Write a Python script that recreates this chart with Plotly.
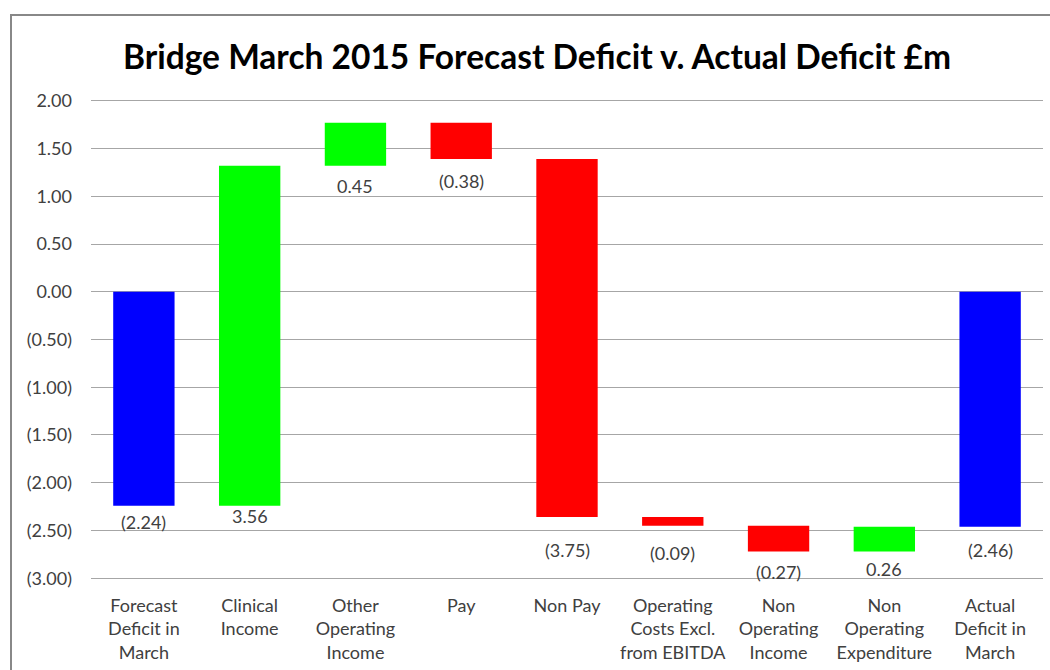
import plotly.graph_objects as go

categories = [
    "Forecast<br>Deficit in<br>March",
    "Clinical<br>Income",
    "Other<br>Operating<br>Income",
    "Pay",
    "Non Pay",
    "Operating<br>Costs Excl.<br>from EBITDA",
    "Non<br>Operating<br>Income",
    "Non<br>Operating<br>Expenditure",
    "Actual<br>Deficit in<br>March",
]
values = [-2.24, 3.56, 0.45, -0.38, -3.75, -0.09, -0.27, 0.26, -2.46]
measures = ["absolute", "relative", "relative", "relative", "relative",
            "relative", "relative", "relative", "total"]
tick_values = [2.0, 1.5, 1.0, 0.5, 0.0, -0.5, -1.0, -1.5, -2.0, -2.5, -3.0]
tick_labels = ["2.00", "1.50", "1.00", "0.50", "0.00", "(0.50)", "(1.00)",
               "(1.50)", "(2.00)", "(2.50)", "(3.00)"]

# styling: pixel offset of each value label below its bar
label_offset_px = [16, 10, 20, 22, 33, 27, 21, 18, 23]

FONT = "Lato, Carlito, Calibri, sans-serif"
TXT = "#404040"

fig = go.Figure(go.Waterfall(
    x=categories,
    y=values,
    measure=measures,
    width=0.58,
    increasing=dict(marker=dict(color="#00FF00")),
    decreasing=dict(marker=dict(color="#FF0000")),
    totals=dict(marker=dict(color="#0000FF")),
    connector=dict(visible=False),
    hoverinfo="x+y",
))

cum = 0.0
annotations = []
for i, (c, v, m) in enumerate(zip(categories, values, measures)):
    if m == "absolute":
        start, end = 0.0, v
        cum = v
    elif m == "total":
        start, end = 0.0, cum
    else:
        start, end = cum, cum + v
        cum = cum + v
    bottom = min(start, end)
    label = f"({abs(v):.2f})" if v < 0 else f"{v:.2f}"
    annotations.append(dict(
        x=c, y=bottom, xref="x", yref="y", text=label, showarrow=False,
        yanchor="middle", yshift=-label_offset_px[i],
        font=dict(family=FONT, size=18, color=TXT),
    ))

fig.update_layout(
    width=1050, height=670,
    margin=dict(l=91, r=7, t=96, b=87),
    paper_bgcolor="white", plot_bgcolor="white",
    showlegend=False,
    title=dict(
        text="<b>Bridge March 2015 Forecast Deficit v. Actual Deficit £m</b>",
        x=537 / 1050, xanchor="center", y=1 - 57 / 670, yanchor="middle",
        font=dict(family=FONT, size=33.5, color="black"),
    ),
    annotations=annotations,
    shapes=[dict(type="rect", xref="paper", yref="paper",
                 x0=(11 - 91) / 952, x1=1.2, y0=-0.5, y1=(583 - 15) / 487,
                 line=dict(color="#888888", width=2), layer="below")],
    font=dict(family=FONT, size=18, color=TXT),
)
fig.update_xaxes(
    showgrid=False, showline=False, zeroline=False,
    tickfont=dict(family=FONT, size=18, color=TXT),
    ticklabelstandoff=10,
)
fig.update_yaxes(
    range=[-3.05, 2.05], tickvals=tick_values, ticktext=tick_labels,
    showgrid=True, gridcolor="#A6A6A6", gridwidth=1,
    zeroline=True, zerolinecolor="#A6A6A6", zerolinewidth=1,
    showline=False, ticks="", ticklabelstandoff=18,
    tickfont=dict(family=FONT, size=18, color=TXT),
)

fig.write_html("out.html", config={"displayModeBar": False},
               post_script="document.body.style.margin='0';")
